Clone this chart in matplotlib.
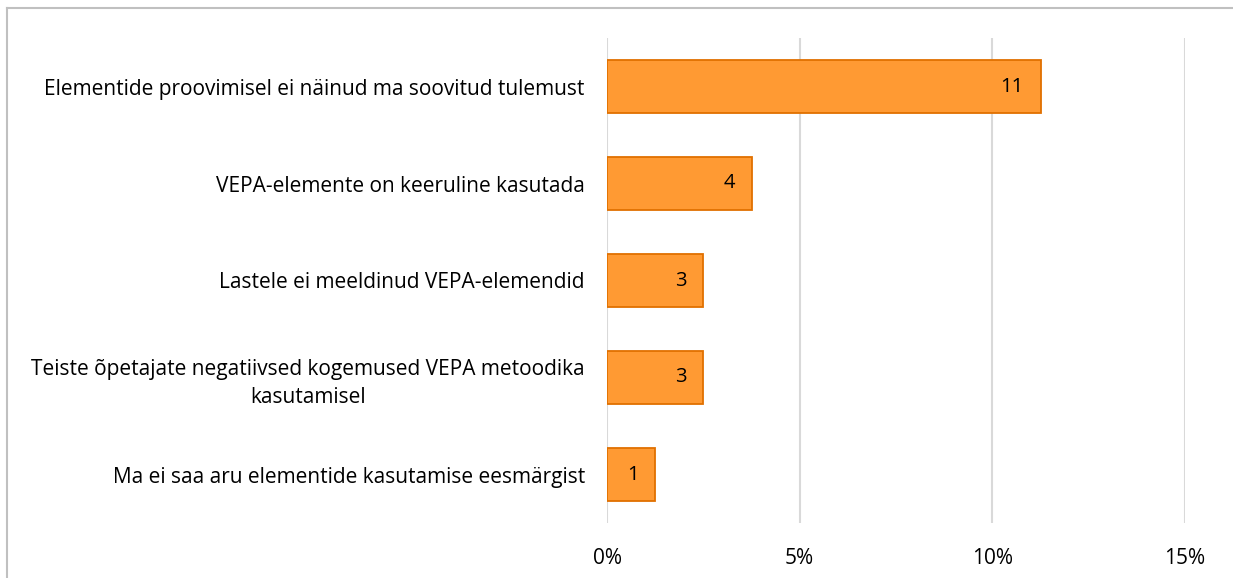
import matplotlib
matplotlib.use("Agg")
import matplotlib.pyplot as plt
from matplotlib.lines import Line2D
from matplotlib.ticker import FuncFormatter

categories = [
    "Elementide proovimisel ei näinud ma soovitud tulemust",
    "VEPA-elemente on keeruline kasutada",
    "Lastele ei meeldinud VEPA-elemendid",
    "Teiste õpetajate negatiivsed kogemused VEPA metoodika\nkasutamisel",
    "Ma ei saa aru elementide kasutamise eesmärgist",
]
percent_values = [11.25, 3.75, 2.5, 2.5, 1.25]
count_labels = ["11", "4", "3", "3", "1"]
x_ticks = [0, 5, 10, 15]

plt.rcParams['font.family'] = ['Open Sans', 'DejaVu Sans']

fig = plt.figure(figsize=(12.33, 5.78), dpi=100)
W, H = 1233, 578
ax = fig.add_axes([607 / W, 1 - 523 / H, (1185 - 607) / W, (523 - 38) / H])

ypos = list(range(len(categories)))
bars = ax.barh(ypos, percent_values, height=0.54, color="#FF9A33",
               edgecolor="#E07000", linewidth=1.3, zorder=3)
for b, lab in zip(bars, count_labels):
    ax.annotate(lab, xy=(b.get_width(), b.get_y() + b.get_height() / 2),
                xytext=(-12, 0), textcoords="offset points",
                ha="right", va="center", fontsize=14.5, color="black", zorder=4)

ax.set_xlim(0, 15)
ax.set_ylim(len(categories) - 0.5, -0.5)
ax.set_xticks(x_ticks)
ax.xaxis.set_major_formatter(FuncFormatter(lambda v, p: f"{int(v)}%"))
ax.set_yticks(ypos)
ax.set_yticklabels(categories, multialignment="center", linespacing=1.45)
ax.grid(axis="x", color="#D9D9D9", linewidth=1.5, zorder=0)
ax.tick_params(axis="both", length=0, labelsize=15, colors="black")
ax.tick_params(axis="y", pad=16)
ax.tick_params(axis="x", pad=18)
for s in ax.spines.values():
    s.set_visible(False)

# outer chart frame (top and left visible)
frame_col = "#C0C0C0"
fig.add_artist(Line2D([7 / W, 1.0], [1 - 8 / H, 1 - 8 / H], color=frame_col, linewidth=1.5,
                      transform=fig.transFigure))
fig.add_artist(Line2D([7 / W, 7 / W], [0.0, 1 - 8 / H], color=frame_col, linewidth=1.5,
                      transform=fig.transFigure))

fig.savefig("out.png", dpi=100, facecolor="white")
